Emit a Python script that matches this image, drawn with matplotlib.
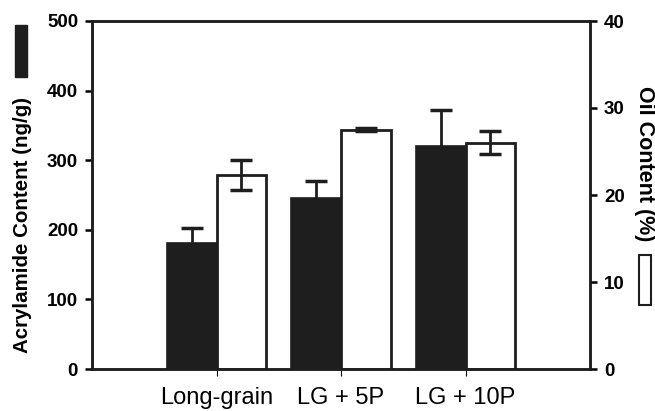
import matplotlib.pyplot as plt
import numpy as np
from matplotlib.patches import Rectangle

plt.rcParams['font.family'] = ['Liberation Sans', 'DejaVu Sans']

# data
groups = ['Long-grain', 'LG + 5P', 'LG + 10P']
acrylamide = [181, 246, 320]      # ng/g
acrylamide_err = [21, 24, 52]
oil = [22.3, 27.5, 26.0]          # %
oil_err = [1.7, 0.2, 1.3]

x = np.arange(len(groups))
w = 0.4

fig = plt.figure(figsize=(6.55, 4.11), dpi=100)
ax1 = fig.add_axes([92 / 655, 1 - 369 / 411, (590 - 92) / 655, (369 - 21) / 411])
ax2 = ax1.twinx()

ax1.bar(x - w / 2, acrylamide, w, color='#1e1e1e', edgecolor='#1e1e1e', linewidth=1.2, zorder=2)
ax1.errorbar(x - w / 2, acrylamide, yerr=acrylamide_err, fmt='none', ecolor='#1e1e1e',
             elinewidth=2, capsize=8, capthick=2.5, zorder=3)
ax2.bar(x + w / 2, oil, w, color='white', edgecolor='#1e1e1e', linewidth=2, zorder=2)
ax2.errorbar(x + w / 2, oil, yerr=oil_err, fmt='none', ecolor='#1e1e1e',
             elinewidth=2, capsize=8, capthick=2.5, zorder=3)

ax1.set_xlim(-1, 3)
ax1.set_ylim(0, 500)
ax2.set_ylim(0, 40)
ax1.set_yticks([0, 100, 200, 300, 400, 500])
ax2.set_yticks([0, 10, 20, 30, 40])
ax1.set_xticks(x)
ax1.set_xticklabels(groups, fontsize=17)

for ax in (ax1, ax2):
    for s in ax.spines.values():
        s.set_linewidth(1.8)
        s.set_color('#1e1e1e')
ax1.tick_params(axis='y', direction='out', length=5, width=1.8, labelsize=13.5, pad=5)
ax2.tick_params(axis='y', direction='out', length=5, width=1.8, labelsize=13.5, pad=5)
ax1.tick_params(axis='x', direction='out', length=5, width=0.8, pad=8)
for lab in ax1.get_yticklabels() + ax2.get_yticklabels():
    lab.set_fontweight('bold')

fig.text(23 / 655, 1 - 225 / 411, 'Acrylamide Content (ng/g)', rotation=90, fontsize=14.8,
         fontweight='bold', ha='center', va='center')
fig.text(644 / 655, 1 - 164 / 411, 'Oil Content (%)', rotation=270, fontsize=15.5,
         fontweight='bold', ha='center', va='center')

# legend swatches next to the axis titles
fig.patches.append(Rectangle((15 / 655, 1 - 77 / 411), 12 / 655, 52 / 411,
                             transform=fig.transFigure, facecolor='#1e1e1e',
                             edgecolor='#1e1e1e', figure=fig))
fig.patches.append(Rectangle((639 / 655, 1 - 305 / 411), 12 / 655, 50 / 411,
                             transform=fig.transFigure, facecolor='white',
                             edgecolor='#1e1e1e', linewidth=1.5, figure=fig))

fig.savefig('out.png', dpi=100)
